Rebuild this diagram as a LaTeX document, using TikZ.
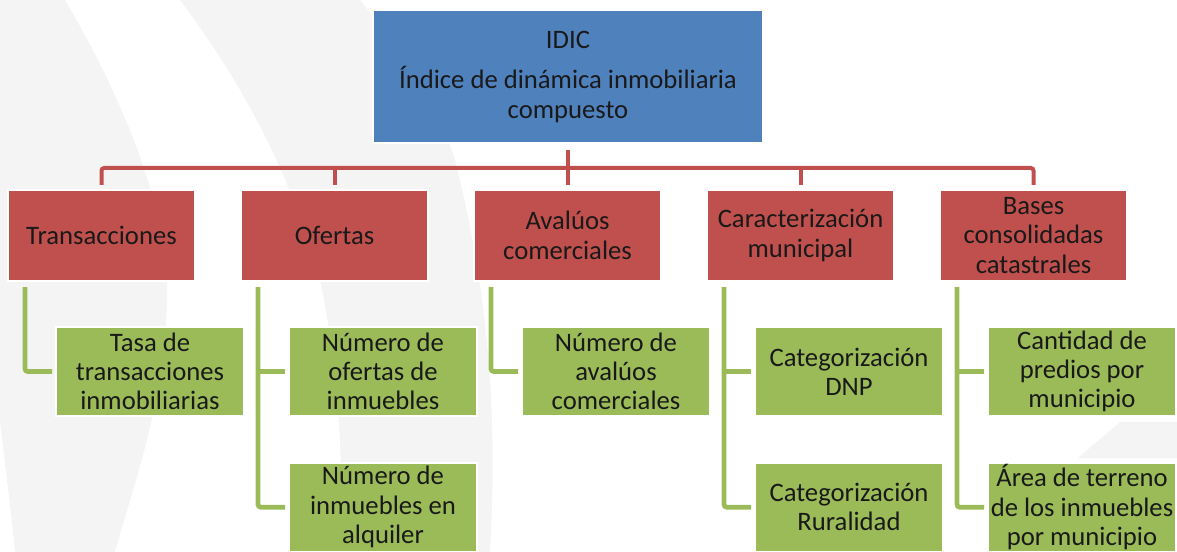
\documentclass[tikz,border=0pt]{standalone}
\usepackage{fontspec}
\setmainfont{Carlito}
\usetikzlibrary{positioning}

\definecolor{idicblue}{HTML}{4F81BD}
\definecolor{groupred}{HTML}{C0504D}
\definecolor{itemgreen}{HTML}{9BBB59}
\definecolor{watermark}{HTML}{F4F4F4}

\begin{document}
\begin{tikzpicture}[x=0.75pt,y=-0.75pt,
  box/.style={draw=white,line width=1.5pt,outer sep=0pt,align=center,inner sep=1pt,
    text=black!90,font=\fontsize{20}{22}\selectfont},
  top/.style={box,fill=idicblue,minimum width=292.5pt,minimum height=99.75pt},
  group/.style={box,fill=groupred,minimum width=140.25pt,minimum height=68.25pt},
  item/.style={box,fill=itemgreen,minimum width=141pt,minimum height=66.75pt},
  redline/.style={draw=groupred,line width=3pt,rounded corners=2pt},
  greenline/.style={draw=itemgreen,line width=3.5pt,rounded corners=2pt}]
  \useasboundingbox (0,0) rectangle (1177,552);

  % faint background
  \fill[watermark] (0,0) -- (65,0) .. controls (130,110) and (170,220) .. (167,300)
    .. controls (165,400) and (135,480) .. (115,552) -- (15,552)
    .. controls (10,500) and (3,450) .. (0,420) -- cycle;
  \fill[watermark] (180,0) -- (360,0) .. controls (400,50) and (440,110) .. (455,160)
    .. controls (480,260) and (500,380) .. (490,552) -- (340,552)
    .. controls (345,450) and (335,350) .. (320,280)
    .. controls (290,170) and (240,80) .. (180,0) -- cycle;
  \fill[watermark] (1120,422) -- (1177,422) -- (1177,458) -- (1078,458) -- cycle;

  % index
  \node[top] (idic) at (568,76.5) {IDIC\\[8.5pt]Índice de dinámica inmobiliaria\\compuesto};

  % sources
  \node[group] (trans) at (101.5,235.5) {Transacciones};
  \node[group,right=34.5pt of trans] (ofer) {Ofertas};
  \node[group,right=34.5pt of ofer] (aval) {Avalúos\\comerciales};
  \node[group,right=34.5pt of aval] (carac) {Caracterización\\municipal};
  \node[group,right=34.5pt of carac] (bases) {Bases\\consolidadas\\catastrales};

  % variables
  \node[item,below right=34.5pt and 36pt of trans.south west] (trans-1) {Tasa de\\transacciones\\inmobiliarias};
  \node[item,below right=34.5pt and 36pt of ofer.south west] (ofer-1) {Número de\\ofertas de\\inmuebles};
  \node[item,below=35pt of ofer-1] (ofer-2) {Número de\\inmuebles en\\alquiler};
  \node[item,below right=34.5pt and 36pt of aval.south west] (aval-1) {Número de\\avalúos\\comerciales};
  \node[item,below right=34.5pt and 36pt of carac.south west] (carac-1) {Categorización\\DNP};
  \node[item,below=35pt of carac-1] (carac-2) {Categorización\\Ruralidad};
  \node[item,below right=34.5pt and 36pt of bases.south west] (bases-1) {Cantidad de\\predios por\\municipio};
  \node[item,below=35pt of bases-1] (bases-2) {Área de terreno\\de los inmuebles\\por municipio};

  % red tree
  \coordinate (bus) at (568,168);
  \draw[redline] ([yshift=3.75pt]trans.north) |- (bus) -| ([yshift=3.75pt]bases.north);
  \draw[redline] ([yshift=-5.25pt]idic.south) -- ([yshift=3.75pt]idic.south |- aval.north);
  \draw[redline] ([yshift=3.75pt]ofer.north) -- (ofer.north |- bus);
  \draw[redline] ([yshift=3.75pt]carac.north) -- (carac.north |- bus);

  % green branches
  \foreach \g in {trans,ofer,aval,carac,bases}
    \coordinate (\g-g) at ([xshift=12.75pt,yshift=-4.5pt]\g.south west);
  \draw[greenline] (trans-g) |- ([xshift=-3pt]trans-1.west);
  \draw[greenline] (ofer-g) |- ([xshift=-3pt]ofer-2.west);
  \draw[greenline] (ofer-g |- ofer-1.west) -- ([xshift=-3pt]ofer-1.west);
  \draw[greenline] (aval-g) |- ([xshift=-3pt]aval-1.west);
  \draw[greenline] (carac-g) |- ([xshift=-3pt]carac-2.west);
  \draw[greenline] (carac-g |- carac-1.west) -- ([xshift=-3pt]carac-1.west);
  \draw[greenline] (bases-g) |- ([xshift=-3pt]bases-2.west);
  \draw[greenline] (bases-g |- bases-1.west) -- ([xshift=-3pt]bases-1.west);
\end{tikzpicture}
\end{document}
